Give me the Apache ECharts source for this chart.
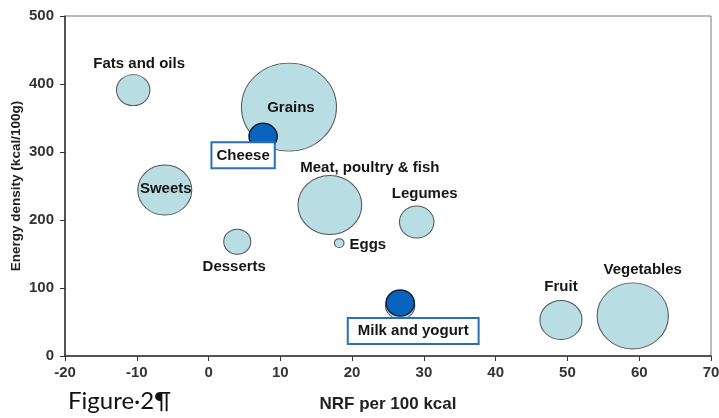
<!DOCTYPE html>
<html>
<head>
<meta charset="utf-8">
<script src="https://cdn.jsdelivr.net/npm/echarts@6/dist/echarts.min.js"></script>
<style>html,body{margin:0;padding:0;background:#fff}#c{width:719px;height:418px}</style>
</head>
<body>
<div id="c"></div>
<script>
// Food groups (light bubbles)
const groups   = ['Fats and oils','Grains','Sweets','Desserts','Meat, poultry & fish','Eggs','Legumes','Milk and yogurt','Fruit','Vegetables'];
const nrf      = [-10.5, 11.2, -6.1, 4.0, 16.9, 18.2, 29.0, 26.7, 49.1, 59.1];
const density  = [391, 366, 244, 168, 222, 166, 197, 74, 53, 59];
const weight   = [9.6, 77.4, 25, 6.3, 34.8, 0.8, 10.2, 7.3, 15.2, 43.6];
// Highlighted dairy items (dark bubbles)
const dairy        = ['Cheese','Milk and yogurt'];
const dairyNrf     = [7.6, 26.7];
const dairyDensity = [323, 78];
const dairyWeight  = [6.8, 6.8];
// Axis ticks
const xTicks = [-20, 70, 10];
const yTicks = [0, 500, 100];

const FONT = '"Liberation Sans", Arial, sans-serif';
const lblBase = {show:true, position:'inside', color:'#151515', fontWeight:'bold', fontSize:15, fontFamily:FONT};
const lblCfg = {
  'Fats and oils': {offset:[6,-26]},
  'Grains': {offset:[2,1]},
  'Sweets': {offset:[1,-1]},
  'Desserts': {offset:[-3,25]},
  'Meat, poultry & fish': {offset:[40,-37]},
  'Eggs': {position:'right', distance:5, offset:[0,2]},
  'Legumes': {offset:[8,-28]},
  'Milk and yogurt': {show:false},
  'Fruit': {offset:[0,-33]},
  'Vegetables': {offset:[10,-46]}
};
const boxStyle = {backgroundColor:'#fff', borderColor:'#2a6fb8', borderWidth:2};
const dairyLbl = {
  'Cheese': Object.assign({offset:[-20,19], padding:[5,4,4,4]}, boxStyle),
  'Milk and yogurt': Object.assign({offset:[13,28], padding:[5,9,4,9]}, boxStyle)
};
const sz = w => { const d = Math.sqrt(w)*10; return [d*1.08, d]; };

const lightData = groups.map((g,i)=>({
  name:g, value:[nrf[i], density[i], weight[i]],
  symbolSize: sz(weight[i]),
  label: Object.assign({}, lblBase, lblCfg[g], {formatter:g})
}));
const darkData = dairy.map((g,i)=>({
  name:g, value:[dairyNrf[i], dairyDensity[i], dairyWeight[i]],
  symbolSize: sz(dairyWeight[i]),
  label: Object.assign({}, lblBase, dairyLbl[g], {formatter:g})
}));

const chart = echarts.init(document.getElementById('c'), null, {renderer:'canvas'});
chart.setOption({
  animation:false,
  grid:{left:65, right:8, top:16, bottom:62, containLabel:false, outerBoundsMode:'none',
        show:true, borderColor:'#777', borderWidth:1},
  xAxis:{
    type:'value', min:xTicks[0], max:xTicks[1], interval:xTicks[2],
    name:'NRF per 100 kcal', nameLocation:'middle', nameGap:40, nameMoveOverlap:false,
    nameTextStyle:{fontFamily:FONT, fontWeight:'bold', fontSize:17, color:'#222'},
    axisLine:{show:true, onZero:false, lineStyle:{color:'#333', width:1.5}},
    axisTick:{show:true, inside:false, length:5, lineStyle:{color:'#333'}},
    axisLabel:{fontFamily:FONT, fontWeight:'bold', fontSize:15, color:'#333', margin:9},
    splitLine:{show:false}
  },
  yAxis:{
    type:'value', min:yTicks[0], max:yTicks[1], interval:yTicks[2],
    name:'Energy density (kcal/100g)', nameLocation:'middle', nameGap:42, nameRotate:90, nameMoveOverlap:false,
    nameTextStyle:{fontFamily:FONT, fontWeight:'bold', fontSize:13.5, color:'#222'},
    axisLine:{show:true, onZero:false, lineStyle:{color:'#333', width:1.5}},
    axisTick:{show:true, inside:false, length:5, lineStyle:{color:'#333'}},
    axisLabel:{fontFamily:FONT, fontWeight:'bold', fontSize:15, color:'#333', margin:11},
    splitLine:{show:false}
  },
  series:[
    {type:'scatter', data:lightData, z:2,
     itemStyle:{color:'#b8dde2', borderColor:'#555', borderWidth:1, opacity:1}},
    {type:'scatter', data:darkData, z:3,
     itemStyle:{color:'#0b63c0', borderColor:'#14213d', borderWidth:1.5, opacity:1}}
  ],
  graphic:[
    {type:'text', left:68, top:389, style:{text:'Figure·2¶', font:'24px Lato, "Open Sans", sans-serif', fill:'#111'}}
  ]
});
</script>
</body>
</html>
